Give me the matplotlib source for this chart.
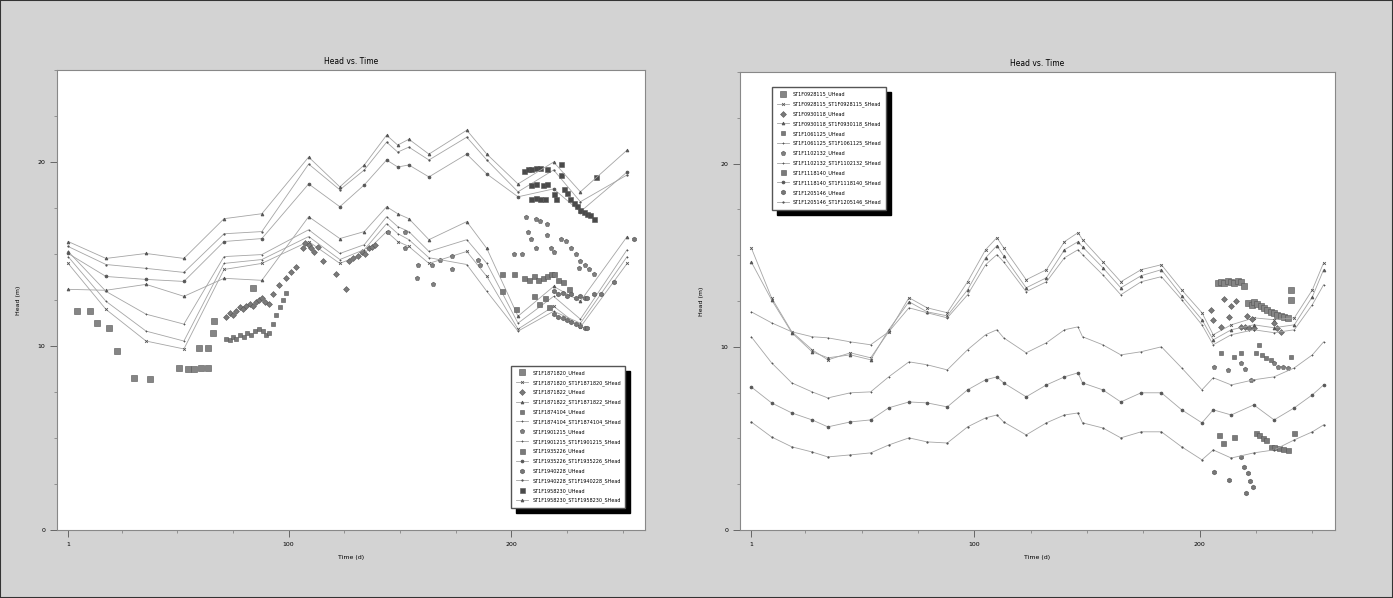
import numpy as np
import matplotlib
matplotlib.use("Agg")
import matplotlib.pyplot as plt
from matplotlib.ticker import MultipleLocator, FixedLocator

# ---------------- left panel: simulated heads ----------------
t_left = [1, 18, 36, 53, 71, 88, 109, 123, 134, 144, 149, 154, 163, 180, 189, 203, 219, 231, 252]

sim_a = [15.68, 14.76, 15.03, 14.76, 16.92, 17.19, 20.27, 18.65, 19.84, 21.46, 20.92, 21.24, 20.43, 21.73, 20.43, 18.81, 20.00, 18.38, 20.65]
sim_b = [15.41, 14.43, 14.22, 14.00, 16.10, 16.22, 19.89, 18.49, 19.57, 21.08, 20.54, 20.81, 20.11, 21.35, 20.11, 18.38, 19.57, 17.84, 19.30]
sim_c = [15.03, 13.78, 13.62, 13.51, 15.68, 15.84, 18.81, 17.57, 18.76, 20.11, 19.73, 19.84, 19.19, 20.43, 19.35, 18.11, 18.54, 17.30, 19.46]
sim_d = [13.08, 13.03, 13.35, 12.70, 13.68, 13.57, 17.03, 15.84, 16.22, 17.57, 17.19, 16.92, 15.78, 16.76, 15.30, 11.62, 13.24, 12.43, 15.95]
sim_e = [15.14, 12.97, 11.73, 11.19, 14.86, 14.97, 16.32, 15.03, 15.51, 17.03, 16.49, 16.22, 15.14, 15.78, 14.49, 11.24, 12.70, 11.46, 15.24]
sim_f = [14.49, 11.99, 10.27, 9.84, 14.16, 14.49, 15.68, 14.49, 15.03, 16.22, 15.68, 15.41, 14.49, 15.14, 13.78, 10.92, 12.16, 11.03, 14.49]
sim_g = [14.86, 12.43, 10.81, 10.27, 14.49, 14.70, 15.95, 14.70, 15.24, 16.65, 16.11, 15.78, 14.80, 14.43, 12.97, 10.81, 11.89, 11.24, 14.86]

# ---------------- left panel: observed heads ----------------
obs1_t = [5.0, 10.8, 13.9, 19.3, 22.9, 30.5, 37.6, 50.6, 55.0, 57.3, 60.8, 64.0, 59.9, 64.0, 66.2, 66.6, 84.0]
obs1_y = [11.89, 11.89, 11.24, 10.97, 9.73, 8.27, 8.22, 8.81, 8.76, 8.76, 8.81, 8.81, 9.89, 9.89, 10.70, 11.35, 13.14]

obs2_t = [72.0, 73.5, 75.0, 76.4, 78.0, 79.5, 80.9, 82.5, 84.0, 85.5, 86.7, 88.0, 89.5, 91.2, 93.0, 95.6, 98.8, 101.0, 103.2,
          106.4, 107.5, 109.0, 110.0, 111.5, 113.0, 115.3, 121.1, 125.6, 126.9, 129.0, 131.0, 133.0, 134.5, 136.0, 137.5, 138.9]
obs2_y = [11.6, 11.8, 11.7, 11.9, 12.1, 12.0, 12.2, 12.3, 12.2, 12.4, 12.5, 12.6, 12.4, 12.3, 12.8, 13.3, 13.7, 14.0, 14.3,
          15.3, 15.6, 15.5, 15.3, 15.1, 15.4, 14.6, 13.9, 13.1, 14.6, 14.8, 14.9, 15.1, 15.0, 15.3, 15.4, 15.5]

obs3_t = [72.0, 73.5, 75.0, 76.4, 78.0, 80.0, 81.5, 83.0, 85.0, 86.7, 88.5, 90.0, 91.2, 93.0, 94.5, 96.0, 97.5, 98.8]
obs3_y = [10.4, 10.3, 10.5, 10.4, 10.6, 10.5, 10.7, 10.6, 10.8, 10.9, 10.8, 10.6, 10.7, 11.2, 11.7, 12.1, 12.5, 12.9]

obs4_t = [144.8, 152.3, 152.3, 158.1, 157.7, 164.8, 164.3, 168.0, 173.3, 173.3, 184.9, 185.8,
          201.4, 205.0, 206.5, 207.5, 209.0, 211.3, 211.3, 213.0, 216.2, 216.2, 218.0, 219.3, 222.4,
          224.5, 226.9, 229.0, 230.5, 231.0, 233.0, 235.0, 237.2]
obs4_y = [16.2, 16.2, 15.3, 14.4, 13.7, 13.35, 14.4, 14.7, 14.9, 14.2, 14.7, 14.4,
          15.0, 15.0, 17.0, 16.2, 15.84, 16.9, 15.3, 16.8, 16.65, 16.05, 15.3, 15.1, 15.84,
          15.7, 15.3, 15.0, 14.22, 14.6, 14.4, 14.2, 13.89]

obs5_t = [195.6, 195.6, 201.4, 202.3, 205.9, 208.0, 210.0, 212.0, 214.0, 216.0, 218.0, 219.3, 221.0, 223.0, 226.0,
          210.0, 212.5, 215.0, 217.0]
obs5_y = [13.9, 13.0, 13.9, 12.0, 13.7, 13.6, 13.8, 13.6, 13.7, 13.8, 13.9, 13.9, 13.6, 13.5, 13.1,
          12.7, 12.3, 12.6, 12.1]

obs6_t = [219.3, 221.0, 223.0, 225.0, 227.0, 229.0, 231.0, 233.0, 234.0,
          219.3, 221.0, 223.0, 225.0, 227.0, 229.0, 231.0, 233.0, 234.0,
          237.2, 240.3, 246.1, 255.1]
obs6_y = [12.97, 12.8, 12.9, 12.7, 12.8, 12.6, 12.7, 12.6, 12.6,
          11.73, 11.6, 11.5, 11.4, 11.3, 11.2, 11.1, 11.0, 10.97,
          12.8, 12.8, 13.5, 15.84]

obs7_t = [205.9, 207.5, 209.0, 211.0, 213.0, 216.2, 222.4, 222.4, 209.0, 211.0, 214.0, 216.2, 209.0, 211.0, 213.0, 215.0,
          219.3, 220.0, 223.8, 225.0, 226.5, 228.0, 229.5, 231.0, 232.5, 234.0, 235.5, 237.2, 238.0]
obs7_y = [19.5, 19.6, 19.6, 19.7, 19.7, 19.6, 19.9, 19.3, 18.76, 18.8, 18.76, 18.8, 18.0, 18.05, 18.0, 18.0,
          18.27, 18.0, 18.54, 18.3, 18.0, 17.8, 17.6, 17.4, 17.3, 17.2, 17.1, 16.92, 19.19]

# ---------------- right panel: simulated heads ----------------
t_right = [1, 10, 19, 28, 35, 45, 54, 62, 71, 79, 88, 97, 105, 110, 113, 123, 132, 140, 146, 148,
           157, 165, 174, 183, 192, 201, 206, 214, 224, 233, 242, 250, 255]

sim_r1 = [15.41, 12.68, 10.82, 9.84, 9.29, 9.67, 9.40, 10.82, 12.68, 12.13, 11.86, 13.55, 15.30, 15.96, 15.41, 13.66, 14.21,
          15.74, 16.23, 15.85, 14.64, 13.55, 14.21, 14.48, 13.11, 11.86, 10.66, 11.20, 11.58, 11.48, 11.58, 13.11, 14.59]
sim_r2 = [14.64, 12.57, 10.77, 9.73, 9.40, 9.56, 9.29, 10.93, 12.46, 11.91, 11.69, 13.11, 14.86, 15.52, 14.97, 13.22, 13.77,
          15.30, 15.74, 15.46, 14.32, 13.22, 13.88, 14.21, 12.79, 11.48, 10.38, 10.93, 11.20, 11.04, 11.20, 12.73, 14.21]
sim_r3 = [11.91, 11.31, 10.82, 10.55, 10.49, 10.27, 10.11, 10.82, 12.13, 11.86, 11.58, 12.84, 14.48, 15.03, 14.64, 13.01, 13.55,
          14.86, 15.30, 15.03, 13.93, 12.84, 13.55, 13.83, 12.57, 11.20, 10.11, 10.66, 10.93, 10.77, 10.93, 12.30, 13.39]
sim_r4 = [10.55, 9.13, 8.03, 7.54, 7.21, 7.49, 7.54, 8.36, 9.18, 9.02, 8.74, 9.84, 10.66, 10.93, 10.49, 9.67, 10.22,
          10.93, 11.09, 10.55, 10.11, 9.56, 9.73, 10.00, 8.85, 7.65, 8.31, 7.92, 8.20, 8.36, 8.85, 9.56, 10.27]
sim_r5 = [7.81, 6.94, 6.39, 6.01, 5.63, 5.90, 6.01, 6.67, 6.99, 6.94, 6.72, 7.65, 8.20, 8.36, 8.03, 7.27, 7.92,
          8.36, 8.58, 8.03, 7.65, 6.99, 7.49, 7.49, 6.56, 5.85, 6.56, 6.28, 6.83, 6.01, 6.67, 7.38, 7.92]
sim_r6 = [5.90, 5.08, 4.54, 4.26, 3.99, 4.10, 4.21, 4.64, 5.03, 4.81, 4.75, 5.63, 6.12, 6.28, 5.90, 5.19, 5.85,
          6.28, 6.39, 5.85, 5.57, 5.03, 5.36, 5.36, 4.54, 3.83, 4.37, 3.93, 4.21, 4.37, 4.92, 5.36, 5.74]

# ---------------- right panel: observed heads ----------------
robs1_t = [208.1, 209.5, 211.0, 212.6, 214.0, 215.3, 216.8, 218.4, 219.7, 221.5, 223.0, 224.2, 225.5, 227.0,
           228.5, 230.0, 231.5, 233.0, 234.5, 236.0, 237.5, 239.3, 240.6, 240.6]
robs1_y = [13.5, 13.55, 13.5, 13.6, 13.55, 13.5, 13.6, 13.55, 13.3, 12.4, 12.3, 12.46, 12.35, 12.2,
           12.1, 12.0, 11.9, 11.85, 11.75, 11.7, 11.65, 11.58, 13.11, 12.57]
robs2_t = [205.0, 205.9, 209.5, 213.0, 218.4, 220.0, 222.0, 224.2, 233.1, 234.5, 236.2, 211.0, 214.0, 216.0, 221.0, 223.0]
robs2_y = [12.02, 11.48, 11.09, 11.6, 11.09, 11.1, 11.05, 11.04, 11.31, 11.0, 10.82, 12.6, 12.2, 12.5, 11.7, 11.5]
robs3_t = [209.5, 215.3, 218.4, 226.4, 225.1, 227.5, 229.5, 231.5, 240.6]
robs3_y = [9.67, 9.45, 9.67, 10.11, 9.67, 9.55, 9.4, 9.3, 9.45]
robs4_t = [206.3, 212.6, 218.4, 220.0, 222.8, 233.1, 234.9, 237.0, 239.3]
robs4_y = [8.91, 8.74, 9.13, 8.8, 8.20, 9.13, 8.91, 8.88, 8.85]
robs5_t = [208.6, 210.4, 215.3, 225.1, 226.5, 228.0, 229.5, 231.7, 233.1, 235.0, 237.0, 239.3, 242.0]
robs5_y = [5.19, 4.75, 5.08, 5.30, 5.2, 5.0, 4.9, 4.54, 4.54, 4.45, 4.4, 4.37, 5.30]
robs6_t = [206.3, 213.0, 218.4, 219.7, 221.5, 222.5, 223.7, 220.6]
robs6_y = [3.17, 2.73, 3.99, 3.44, 3.11, 2.7, 2.35, 2.02]

wells_left = ["ST1F1871820", "ST1F1871822", "ST1F1874104", "ST1F1901215", "ST1F1935226", "ST1F1940228", "ST1F1958230"]
wells_right = ["ST1F0928115", "ST1F0930118", "ST1F1061125", "ST1F1102132", "ST1F1118140", "ST1F1205146"]

left_obs = [(obs1_t, obs1_y), (obs2_t, obs2_y), (obs3_t, obs3_y), (obs4_t, obs4_y),
            (obs5_t, obs5_y), (obs6_t, obs6_y), (obs7_t, obs7_y)]
left_sim = [sim_f, sim_d, sim_e, sim_g, sim_c, sim_b, sim_a]
right_obs = [(robs1_t, robs1_y), (robs2_t, robs2_y), (robs3_t, robs3_y),
             (robs4_t, robs4_y), (robs5_t, robs5_y), (robs6_t, robs6_y)]
right_sim = [sim_r1, sim_r2, sim_r3, sim_r4, sim_r5, sim_r6]

# observed: mostly squarish gray blobs; simulated: thin light lines with small dark markers
obs_markers = ["s", "D", "s", "p", "s", "h", "s"]
obs_sizes = [4.2, 3.0, 3.4, 3.4, 3.6, 3.4, 3.6]
obs_colors = ["#858585", "#7a7a7a", "#7a7a7a", "#808080", "#7a7a7a", "#777777", "#4a4a4a"]
sim_markers = ["x", "^", "+", "+", "o", ".", "^"]

plt.rcParams["font.family"] = "DejaVu Sans"

fig = plt.figure(figsize=(13.93, 5.98), dpi=100, facecolor="#d3d3d3")
fig.patches.append(plt.Rectangle((0, 0), 1, 1, transform=fig.transFigure, fill=False,
                                 edgecolor="#333333", linewidth=1.5))

ax1 = fig.add_axes([0.0409, 0.1137, 0.4221, 0.7692])
ax2 = fig.add_axes([0.5312, 0.1137, 0.4271, 0.7659])


def draw_panel(ax, t_sim, sims, obs, wells):
    for i, ((ot, oy), sy, w) in enumerate(zip(obs, sims, wells)):
        k = i % len(obs_markers)
        ax.plot(ot, oy, ls="none", marker=obs_markers[k], ms=obs_sizes[k],
                color=obs_colors[k], mec="#555555", mew=0.4, label=w + "_UHead")
        ax.plot(t_sim, sy, ls="-", lw=0.6, color="#a5a5a5",
                marker=sim_markers[k], ms=2.0, mfc="#555555", mec="#555555", mew=0.6,
                label=w + "_" + w + "_SHead")
    ax.set_xlim(-4, 260)
    ax.set_ylim(0, 25)
    ax.xaxis.set_major_locator(FixedLocator([1, 100, 200]))
    ax.xaxis.set_minor_locator(FixedLocator([25, 50, 75, 125, 150, 175, 225, 250]))
    ax.yaxis.set_major_locator(MultipleLocator(10))
    ax.yaxis.set_minor_locator(MultipleLocator(2.5))
    ax.tick_params(which="major", direction="out", length=5, width=0.6, labelsize=4.5, color="#555555")
    ax.tick_params(which="minor", direction="out", length=2.5, width=0.5, color="#777777")
    for s in ax.spines.values():
        s.set_color("#888888")
        s.set_linewidth(0.8)
    ax.set_title("Head vs. Time", fontsize=5.5, pad=4)
    ax.set_xlabel("Time (d)", fontsize=4.5, labelpad=6)
    ax.set_ylabel("Head (m)", fontsize=4.5, labelpad=12)


draw_panel(ax1, t_left, left_sim, left_obs, wells_left)
draw_panel(ax2, t_right, right_sim, right_obs, wells_right)

leg_kw = dict(fontsize=3.5, labelspacing=0.85, handlelength=2.6, borderpad=0.9, fancybox=False,
              framealpha=1, edgecolor="#555555",
              shadow={"color": "black", "alpha": 1, "ox": 3.5, "oy": -3.5})
ax1.legend(loc="lower right", bbox_to_anchor=(0.971, 0.043), **leg_kw)
ax2.legend(loc="upper left", bbox_to_anchor=(0.05, 0.972), **leg_kw)

fig.savefig("out.png", dpi=100, facecolor=fig.get_facecolor())
